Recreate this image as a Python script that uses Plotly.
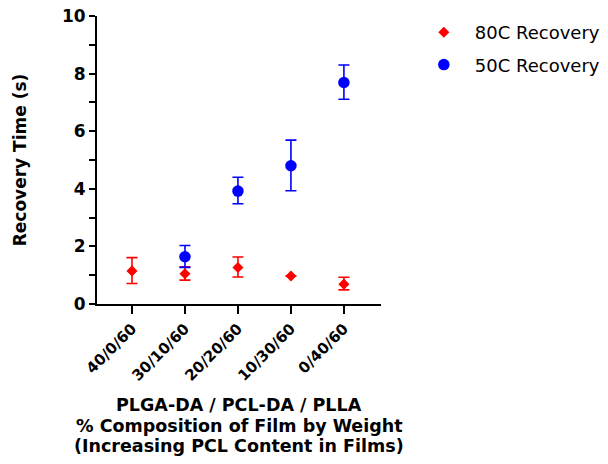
import plotly.graph_objects as go

categories = ["40/0/60", "30/10/60", "20/20/60", "10/30/60", "0/40/60"]
x_pos = [0, 1, 2, 3, 4]

rec80 = [1.15, 1.05, 1.27, 0.97, 0.69]
rec80_plus = [0.46, 0.24, 0.36, 0.0, 0.24]
rec80_minus = [0.44, 0.22, 0.33, 0.0, 0.20]

rec50 = [None, 1.64, 3.92, 4.80, 7.69]
rec50_plus = [0, 0.39, 0.48, 0.89, 0.61]
rec50_minus = [0, 0.37, 0.44, 0.87, 0.58]

y_ticks = [0, 2, 4, 6, 8, 10]
title_lines = ["PLGA-DA / PCL-DA / PLLA",
               "% Composition of Film by Weight",
               "(Increasing PCL Content in Films)"]

FONT = "DejaVu Sans, Liberation Sans, Arial, sans-serif"

fig = go.Figure()
fig.add_trace(go.Scatter(
    x=x_pos, y=rec80, mode="markers", name="80C Recovery",
    marker=dict(symbol="diamond", color="#ff0000", size=8.5),
    error_y=dict(type="data", array=rec80_plus, arrayminus=rec80_minus,
                 color="#ff0000", thickness=1.6, width=5.5),
    legendgroup="a",
))
fig.add_trace(go.Scatter(
    x=x_pos, y=rec50, mode="markers", name="50C Recovery",
    marker=dict(symbol="circle", color="#0000ff", size=11.5),
    error_y=dict(type="data", array=rec50_plus, arrayminus=rec50_minus,
                 color="#0000ff", thickness=1.6, width=5.5),
    legendgroup="b",
))

fig.update_layout(
    width=608, height=464,
    margin=dict(l=97, r=227, t=16, b=160, autoexpand=False),
    paper_bgcolor="white", plot_bgcolor="white",
    font=dict(family=FONT, color="black"),
    showlegend=True,
    legend=dict(xref="container", yref="container", x=0.679, y=0.9698,
                xanchor="left", yanchor="top",
                font=dict(size=18, family=FONT), tracegroupgap=6,
                itemwidth=52, bgcolor="rgba(0,0,0,0)"),
    xaxis=dict(
        range=[-0.66, 4.7], tickvals=x_pos, ticktext=categories,
        tickangle=-45, ticks="outside", ticklen=8, tickwidth=2,
        tickcolor="black", showline=True, linecolor="black", linewidth=2,
        showgrid=False, zeroline=False, automargin=False,
        tickfont=dict(size=15, family=FONT, weight="bold"),
    ),
    yaxis=dict(
        range=[0, 10], tickvals=y_ticks, ticklabeloverflow="allow",
        ticks="outside", ticklen=6, tickwidth=2, tickcolor="black",
        minor=dict(dtick=1, ticks="outside", ticklen=6, tickwidth=2,
                   tickcolor="black", showgrid=False),
        showline=True, linecolor="black", linewidth=2,
        showgrid=False, zeroline=False, automargin=False,
        tickfont=dict(size=17, family=FONT, weight="bold"),
        title=dict(text="Recovery Time (s)",
                   font=dict(size=17, family=FONT, weight="bold"), standoff=31),
    ),
)

for text, yp in zip(title_lines, [-0.351, -0.424, -0.493]):
    fig.add_annotation(
        xref="paper", yref="paper", x=0.5, y=yp, xanchor="center", yanchor="middle",
        text=text, showarrow=False,
        font=dict(size=17.5, family=FONT, weight="bold", color="black"),
    )

fig.write_html("out.html", config={"displayModeBar": False},
               post_script="document.body.style.margin='0';")
